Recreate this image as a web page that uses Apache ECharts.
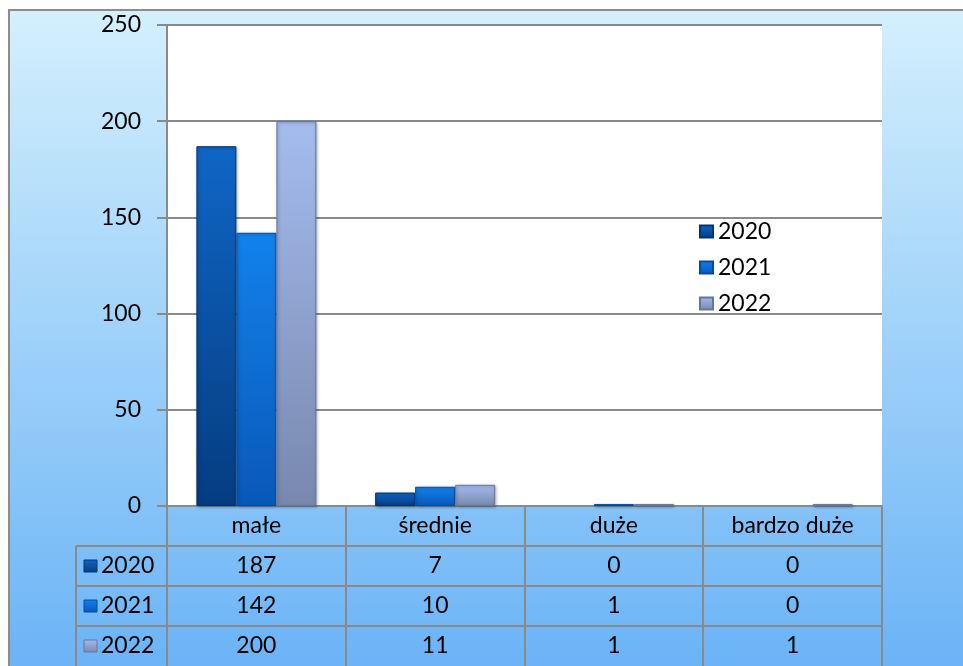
<!DOCTYPE html>
<html>
<head>
<meta charset="utf-8">
<script src="https://cdn.jsdelivr.net/npm/echarts@6/dist/echarts.min.js"></script>
<style>
  html, body { margin: 0; padding: 0; background: #fff; }
  #chart { width: 963px; height: 666px; }
</style>
</head>
<body>
<div id="chart"></div>
<script>
var categories = ['małe', 'średnie', 'duże', 'bardzo duże'];
var years = ['2020', '2021', '2022'];
var v2020 = [187, 7, 0, 0];
var v2021 = [142, 10, 1, 0];
var v2022 = [200, 11, 1, 1];
var yTicks = [0, 50, 100, 150, 200, 250];

var values = [v2020, v2021, v2022];
var FONT = 'Lato, "Open Sans", sans-serif';
var GRID = { left: 167, right: 81, top: 25, bottom: 160 };
var ROW = 40;
var lineCol = '#8a8a8a';

function grad(top, bottom) {
  return new echarts.graphic.LinearGradient(0, 0, 0, 1, [
    { offset: 0, color: top },
    { offset: 1, color: bottom }
  ]);
}
var fills = [
  grad('#0f66c6', '#053c80'),
  grad('#1282ec', '#0958b8'),
  grad('#a4bcef', '#7888ad')
];
var borders = ['#04346f', '#074b9c', '#66769a'];

var chart = echarts.init(document.getElementById('chart'));

// table + frame drawn around the grid
var W = 963, H = 666;
var plotL = GRID.left, plotR = W - GRID.right, baseY = H - GRID.bottom;
var colW = (plotR - plotL) / categories.length;
var tableL = 76;
var g = [];

g.push({
  type: 'rect', z: -10, silent: true,
  shape: { x: 9, y: 10, width: 960, height: 660 },
  style: {
    fill: grad('#d4f0fd', '#6ab3f6'),
    stroke: '#8c8c8c', lineWidth: 2
  }
});
g.push({
  type: 'rect', z: -9, silent: true,
  shape: { x: plotL, y: GRID.top, width: plotR - plotL, height: baseY - GRID.top },
  style: { fill: '#ffffff' }
});

// vertical table lines
g.push({ type: 'line', silent: true, z: 5, shape: { x1: tableL, y1: baseY + ROW, x2: tableL, y2: H }, style: { stroke: lineCol, lineWidth: 2 } });
for (var c = 0; c <= categories.length; c++) {
  var x = Math.round(plotL + c * colW);
  g.push({ type: 'line', silent: true, z: 5, shape: { x1: x, y1: baseY, x2: x, y2: H }, style: { stroke: lineCol, lineWidth: 2 } });
}
// horizontal table lines
for (var r = 1; r <= years.length; r++) {
  var y = baseY + r * ROW;
  g.push({ type: 'line', silent: true, z: 5, shape: { x1: tableL, y1: y, x2: plotR, y2: y }, style: { stroke: lineCol, lineWidth: 2 } });
}
// left column: legend keys + year
years.forEach(function (yr, i) {
  var cy = baseY + (i + 1) * ROW + ROW / 2;
  g.push({
    type: 'rect', silent: true, z: 6,
    shape: { x: 84, y: cy - 6, width: 13, height: 12 },
    style: { fill: fills[i], stroke: borders[i], lineWidth: 1 }
  });
  g.push({
    type: 'text', silent: true, z: 6,
    x: 101, y: cy,
    style: { text: yr, font: '23px ' + FONT, fill: '#000', verticalAlign: 'middle', textAlign: 'left' }
  });
});

var series = years.map(function (yr, i) {
  return {
    name: yr,
    type: 'bar',
    data: values[i].map(function (v) {
      return v === 0 ? { value: 0, itemStyle: { borderWidth: 0, shadowBlur: 0 } } : v;
    }),
    barWidth: 40,
    barGap: '0%',
    itemStyle: {
      color: fills[i],
      borderColor: borders[i],
      borderWidth: 1,
      shadowColor: 'rgba(0,0,0,0.3)',
      shadowBlur: 3,
      shadowOffsetX: 1,
      shadowOffsetY: 1
    }
  };
});

chart.setOption({
  animation: false,
  textStyle: { fontFamily: FONT },
  graphic: g,
  grid: GRID,
  legend: {
    orient: 'vertical',
    left: 694,
    top: 215,
    icon: 'rect',
    itemWidth: 13,
    itemHeight: 12,
    itemGap: 13,
    data: years,
    textStyle: { fontSize: 23, color: '#000', lineHeight: 22, fontFamily: FONT }
  },
  xAxis: {
    type: 'category',
    data: categories,
    axisLine: { show: true, lineStyle: { color: lineCol, width: 2 } },
    axisTick: { show: false },
    axisLabel: {
      interval: 0,
      margin: 0,
      fontSize: 23,
      lineHeight: ROW,
      color: '#000',
      fontFamily: FONT,
      formatter: function (val, idx) {
        var lines = [val];
        values.forEach(function (arr) { lines.push(String(arr[idx])); });
        return lines.join('\n');
      }
    }
  },
  yAxis: {
    type: 'value',
    min: yTicks[0],
    max: yTicks[yTicks.length - 1],
    interval: 50,
    axisLine: { show: true, lineStyle: { color: lineCol, width: 2 } },
    axisTick: { show: true, length: 10, lineStyle: { color: lineCol, width: 2 } },
    axisLabel: { margin: 26, fontSize: 23, color: '#000', fontFamily: FONT },
    splitLine: { show: true, lineStyle: { color: lineCol, width: 2 } }
  },
  series: series
});
</script>
</body>
</html>
